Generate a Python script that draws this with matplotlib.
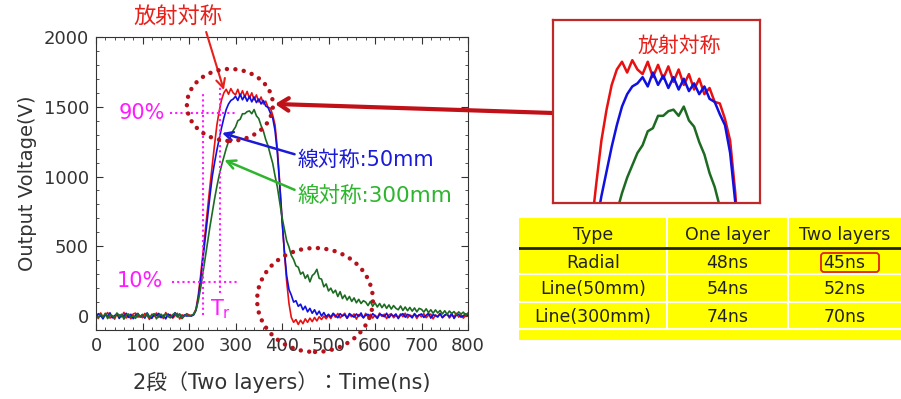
import matplotlib.pyplot as plt
import numpy as np
from matplotlib.patches import Ellipse, FancyBboxPatch, Rectangle
from matplotlib.ticker import MultipleLocator


FIG_W, FIG_H = 901, 399
CJK = ["DejaVu Sans", "Noto Sans CJK JP"]

# sampling grid of the scope traces (ns)
TIME_NS = np.arange(0, 805, 5)

# output voltage (V), every 5 ns
RADIAL_V = [
    12, -18, 22, -9, 5, 25, -15, 3, -22, 16, 9, -6, 26, -14, 4, -20, 15, 21, -8, 2,
    -12, 19, 4, -24, 13, -3, 22, -10, 8, -18, 25, -5, 11, -15, 3, 20, -21, 9, -2, 17,
    8, 3, 14, 50, 150, 290, 450, 610, 770, 930, 1080, 1230, 1370, 1470, 1550, 1600, 1625, 1590, 1630, 1600,
    1585, 1625, 1575, 1615, 1570, 1610, 1560, 1600, 1550, 1585, 1535, 1570, 1520, 1540, 1495, 1490, 1440, 1370, 1200, 960,
    700, 460, 250, 90, -10, -45, -25, -60, -30, -55, -20, -45, -15, -40, -10, -35, -5, -25, 0, -20,
    5, -18, 14, -8, 18, -13, 4, 20, -16, 8, -5, 15, -22, 10, 3, -12, 19, -7, 12, -15,
    6, -10, 21, -3, 13, -18, 8, 17, -12, 3, -9, 15, -5, 20, -13, 7, -2, 12, -17, 10,
    -6, 17, -12, 5, 14, -20, 8, -3, 19, -10, 3, 15, -14, 7, -5, 20, -8, 10, -15, 5, 0,
]
LINE50_V = [
    -8, 17, 5, -20, 12, -5, 23, -13, 3, 15, -17, 8, -3, 20, -10, 13, -19, 6, 18, -7,
    10, -15, 22, -5, -17, 12, 3, 19, -12, 7, -20, 15, 2, -10, 24, -3, 13, -17, 8, 0,
    3, 0, 8, 40, 130, 260, 410, 560, 710, 860, 1000, 1100, 1190, 1270, 1350, 1420, 1480, 1520, 1545, 1555,
    1575, 1545, 1590, 1550, 1580, 1540, 1575, 1535, 1570, 1530, 1555, 1520, 1545, 1505, 1495, 1455, 1420, 1330, 1170, 940,
    690, 470, 290, 190, 150, 100, 110, 70, 85, 45, 70, 30, 55, 20, 45, 10, 35, 0, 25, -5,
    13, -7, 20, 3, -12, 17, 0, 10, -15, 18, 5, -8, 15, -3, 22, -13, 7, 12, -10, 17,
    2, -17, 13, 8, -5, 20, -12, 10, 0, 15, -18, 7, 17, -8, 12, 3, -13, 18, -3, 8,
    15, -10, 5, 20, -15, 10, 2, -7, 17, -12, 8, 13, -5, 18, -17, 7, 12, -8, 3, 15, 5,
]
LINE300_V = [
    5, -13, 17, -7, 20, -18, 10, 2, -12, 22, -3, 13, -22, 8, 15, -10, 3, -17, 18, -5,
    12, -8, 20, -15, 7, 17, -20, 5, 13, -10, 18, -2, -13, 10, 22, -7, 15, -18, 3, 8,
    0, 5, 12, 45, 110, 200, 310, 420, 530, 640, 740, 840, 930, 1010, 1080, 1140, 1200, 1250, 1290, 1330,
    1355, 1400, 1410, 1450, 1450, 1465, 1470, 1450, 1480, 1435, 1415, 1365, 1325, 1265, 1220, 1155, 1095, 1005, 925, 815,
    710, 625, 540, 495, 435, 405, 360, 350, 300, 315, 270, 295, 245, 290, 305, 335, 270, 265, 210, 230,
    180, 200, 165, 185, 140, 175, 125, 150, 115, 140, 105, 130, 95, 120, 90, 110, 100, 75, 105, 70,
    95, 65, 90, 60, 85, 55, 80, 50, 75, 55, 45, 72, 40, 65, 38, 62, 35, 58, 30, 55,
    48, 28, 52, 25, 45, 20, 44, 22, 40, 15, 38, 12, 36, 18, 32, 8, 30, 14, 28, 6, 22,
]

SERIES = [
    (RADIAL_V, "#e81010"),
    (LINE50_V, "#1010e0"),
    (LINE300_V, "#1d6b22"),
]

TABLE_HEADER = ["Type", "One layer", "Two layers"]
TABLE_ROWS = [
    ["Radial", "48ns", "45ns"],
    ["Line(50mm)", "54ns", "52ns"],
    ["Line(300mm)", "74ns", "70ns"],
]

MAGENTA = "#ff1aff"
DARK_RED = "#b5121b"
TEXT = "#333333"


def fig_box(x0, y0, x1, y1):
    # pixel box (top-left origin) -> figure fraction rect
    return [x0 / FIG_W, 1 - y1 / FIG_H, (x1 - x0) / FIG_W, (y1 - y0) / FIG_H]


def draw_traces(ax, lw):
    for values, color in SERIES:
        ax.plot(TIME_NS, values, color=color, lw=lw)


def main_panel(fig):
    ax = fig.add_axes(fig_box(96, 37, 468, 330))
    draw_traces(ax, 1.2)
    ax.set_xlim(0, 800)
    ax.set_ylim(-100, 2000)
    ax.xaxis.set_major_locator(MultipleLocator(100))
    ax.xaxis.set_minor_locator(MultipleLocator(20))
    ax.yaxis.set_major_locator(MultipleLocator(500))
    ax.yaxis.set_minor_locator(MultipleLocator(100))
    ax.tick_params(which="both", direction="in", top=True, right=True,
                   colors=TEXT, labelsize=13, pad=5)
    ax.tick_params(which="major", length=5)
    ax.tick_params(which="minor", length=2.5)
    for spine in ax.spines.values():
        spine.set_color(TEXT)
        spine.set_linewidth(0.8)
    ax.set_ylabel("Output Voltage(V)", fontsize=14, color=TEXT, labelpad=5)
    ax.set_xlabel("2段（Two layers）：Time(ns)", fontsize=15, color=TEXT,
                  labelpad=12, family=CJK)

    # 10% / 90% rise-time markers
    dot = dict(color=MAGENTA, lw=1.5, ls=(0, (1, 1.5)))
    ax.plot([160, 300], [1455, 1455], **dot)
    ax.plot([164, 306], [246, 246], **dot)
    ax.plot([231, 231], [7, 1605], **dot)
    ax.plot([267, 267], [165, 1656], **dot)
    ax.text(99, 1455, "90%", color=MAGENTA, fontsize=15, ha="center", va="center")
    ax.text(95, 251, "10%", color=MAGENTA, fontsize=15, ha="center", va="center")
    ax.text(267, 50, "T$_\\mathregular{r}$", color=MAGENTA, fontsize=15,
            ha="center", va="center")

    circle = dict(fill=False, ec=DARK_RED, lw=3.2, ls=(0, (0.01, 1.9)),
                  capstyle="round", clip_on=False, zorder=5)
    ax.add_patch(Ellipse((288, 1513), 185, 516, **circle))
    ax.add_patch(Ellipse((471, 115), 249, 745, **circle))

    ax.annotate("放射対称", xy=(275, 1620), xytext=(176, 2150),
                color="#e8201a", fontsize=16, family=CJK, ha="center", va="center",
                annotation_clip=False,
                arrowprops=dict(arrowstyle="->", color="#e8201a", lw=1.5,
                                shrinkA=2, shrinkB=0, relpos=(0.8, 0)))
    ax.annotate("線対称:50mm", xy=(271, 1312), xytext=(433, 1118),
                color="#1a1ad8", fontsize=15, family=CJK, ha="left", va="center",
                arrowprops=dict(arrowstyle="->", color="#1a1ad8", lw=1.8,
                                shrinkA=0, shrinkB=0, relpos=(0, 0.75)))
    ax.annotate("線対称:300mm", xy=(276, 1118), xytext=(433, 860),
                color="#2db52d", fontsize=15.5, family=CJK, ha="left", va="center",
                arrowprops=dict(arrowstyle="->", color="#2db52d", lw=1.8,
                                shrinkA=0, shrinkB=0, relpos=(0, 0.75)))

    ax.annotate("", xy=(385, 1520), xycoords="data",
                xytext=(553 / FIG_W, 1 - 113 / FIG_H), textcoords="figure fraction",
                arrowprops=dict(arrowstyle="->,head_length=0.7,head_width=0.45",
                                color="#c01018", lw=3, shrinkA=0, shrinkB=0))
    return ax


def inset_panel(fig):
    ax = fig.add_axes(fig_box(553, 20, 760, 203))
    draw_traces(ax, 1.8)
    ax.set_xlim(213, 414)
    ax.set_ylim(1168, 1760)
    ax.set_xticks([])
    ax.set_yticks([])
    for spine in ax.spines.values():
        spine.set_color("#c0282a")
        spine.set_linewidth(1.6)
    ax.text(0.61, 0.86, "放射対称", transform=ax.transAxes, color="#e8201a",
            fontsize=15, family=CJK, ha="center", va="center")


def table_panel(fig):
    ax = fig.add_axes(fig_box(519, 218, 901, 340))
    ax.set_xlim(0, 382)
    ax.set_ylim(122, 0)
    ax.axis("off")
    ax.add_patch(Rectangle((0, 0), 382, 122, color="#ffff00", zorder=0))

    col_edges = [0, 148, 269, 382]
    row_edges = [0, 30, 56, 84, 111]
    for x in col_edges[1:-1]:
        ax.plot([x, x], [0, row_edges[-1]], color="white", lw=1.5, zorder=1)
    for y in row_edges[2:]:
        ax.plot([0, 382], [y, y], color="white", lw=1.5, zorder=1)
    ax.plot([0, 382], [30, 30], color="#222222", lw=2, zorder=2)

    rows = [TABLE_HEADER] + TABLE_ROWS
    for r, row in enumerate(rows):
        yc = (row_edges[r] + row_edges[r + 1]) / 2 + 1.5
        for c, cell in enumerate(row):
            xc = (col_edges[c] + col_edges[c + 1]) / 2
            ax.text(xc, yc, cell, fontsize=12.5, color="#222222",
                    ha="center", va="center", zorder=3)

    ax.add_patch(FancyBboxPatch((302, 35), 58, 19,
                                boxstyle="round,pad=0,rounding_size=3",
                                fill=False, ec="#e02020", lw=1.3, zorder=4))


def main():
    fig = plt.figure(figsize=(FIG_W / 100, FIG_H / 100), dpi=100)
    main_panel(fig)
    inset_panel(fig)
    table_panel(fig)
    fig.savefig("out.png", dpi=100)


if __name__ == "__main__":
    main()
